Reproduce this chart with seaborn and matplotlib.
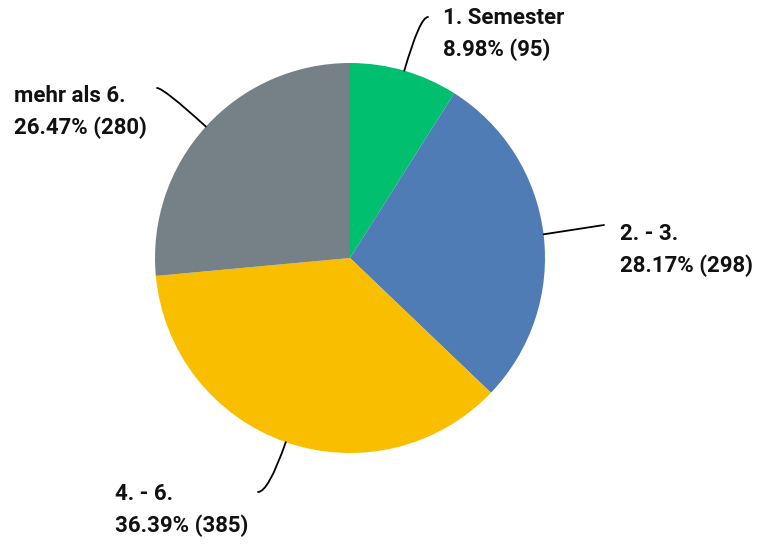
import matplotlib
matplotlib.use("Agg")
import matplotlib.pyplot as plt
import seaborn as sns
import numpy as np

# Daten
categories = ['1. Semester', '2. - 3.', '4. - 6.', 'mehr als 6.']
counts = [95, 298, 385, 280]
colors = ['#00BF6F', '#507CB6', '#F9BE00', '#768087']

sns.set_style("white")
plt.rcParams['font.family'] = ['Roboto', 'DejaVu Sans']

W, H = 760, 545
fig = plt.figure(figsize=(W / 100, H / 100), dpi=100)
ax = fig.add_axes([0, 0, 1, 1])

cx, cy, r = 350, H - 258, 195
wedges, _ = ax.pie(counts, colors=colors, startangle=90, counterclock=False,
                   center=(cx, cy), radius=r, frame=True,
                   wedgeprops=dict(linewidth=0))
ax.set_xlim(0, W)
ax.set_ylim(0, H)
ax.set_aspect('equal')
ax.axis('off')

total = sum(counts)
labels = [f"{c}\n{v / total * 100:.2f}% ({v})" for c, v in zip(categories, counts)]

# Textposition (links, Mitte in Pixel von oben), Linienende
text_pos = [(443, 34), (620, 250), (115, 510), (14, 112)]
line_end = [(428, 17), (604, 225), (258, 492), (157, 88)]
styles = ['angle3,angleA=0,angleB={}', 'arc3,rad=0', 'angle3,angleA=0,angleB={}',
          'angle3,angleA=0,angleB={}']

for w, lab, (tx, ty), (ex, ey), st in zip(wedges, labels, text_pos, line_end, styles):
    ang = (w.theta1 + w.theta2) / 2
    px = cx + r * np.cos(np.deg2rad(ang))
    py = cy + r * np.sin(np.deg2rad(ang))
    ax.text(tx, H - ty, lab, ha='left', va='center', fontsize=16,
            fontweight='bold', linespacing=1.5, color='#111111')
    ax.annotate('', xy=(px, py), xytext=(ex, H - ey),
                arrowprops=dict(arrowstyle='-', color='black', lw=1.3,
                                shrinkA=0, shrinkB=0,
                                connectionstyle=st.format(ang)))

fig.savefig('out.png', dpi=100)
